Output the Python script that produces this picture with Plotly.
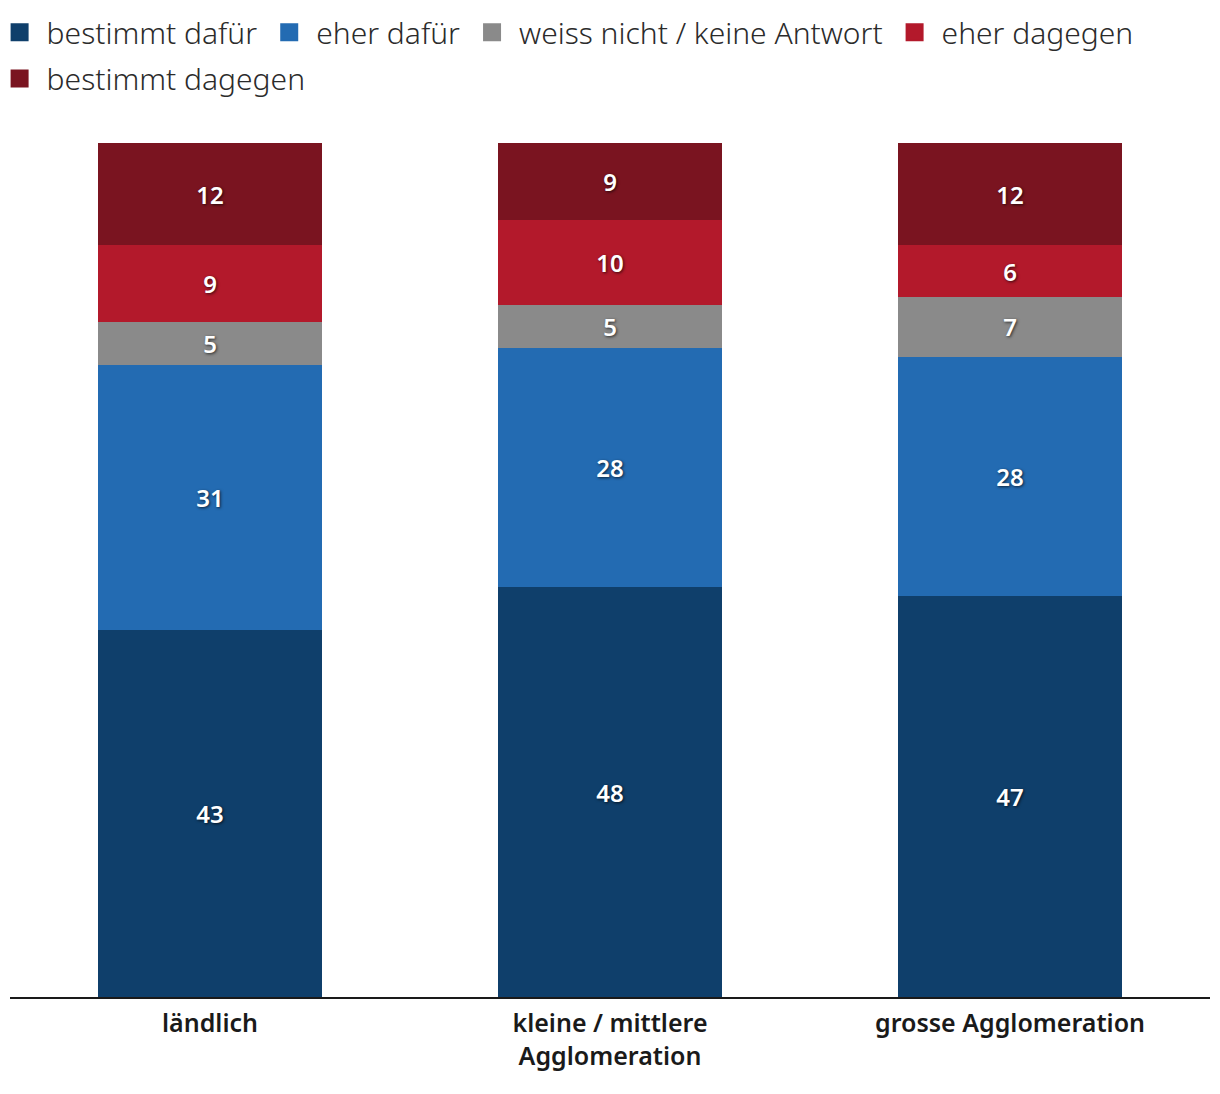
import plotly.graph_objects as go

categories = ["ländlich", "kleine / mittlere<br>Agglomeration", "grosse Agglomeration"]
series_names = ["bestimmt dafür", "eher dafür", "weiss nicht / keine Antwort", "eher dagegen", "bestimmt dagegen"]
bestimmt_dafuer = [43, 48, 47]
eher_dafuer = [31, 28, 28]
weiss_nicht = [5, 5, 7]
eher_dagegen = [9, 10, 6]
bestimmt_dagegen = [12, 9, 12]
colors = ["#0f3f6b", "#236bb2", "#8a8a8a", "#b3192b", "#7a1420"]

series_values = [bestimmt_dafuer, eher_dafuer, weiss_nicht, eher_dagegen, bestimmt_dagegen]
legend_rows = ["legend", "legend", "legend", "legend", "legend2"]

fig = go.Figure()
for name, vals, col in zip(series_names, series_values, colors):
    fig.add_trace(go.Bar(
        x=categories, y=vals, name=name, marker=dict(color=col, line=dict(width=0)),
        text=[str(v) for v in vals], textposition="inside", insidetextanchor="middle",
        textangle=0,
        textfont=dict(family="Noto Sans", size=24, color="white", weight=600,
                      shadow="1px 1px 3px rgba(0,0,0,0.7)"),
        showlegend=False, hoverinfo="skip",
    ))
# legend entries with larger square icons
for name, col, lg in zip(series_names, colors, legend_rows):
    fig.add_trace(go.Scatter(
        x=[None], y=[None], mode="markers", name=name, legend=lg,
        marker=dict(symbol="square", size=16, color=col, line=dict(color=col, width=2)),
        showlegend=True,
    ))

legend_font = dict(family="Noto Sans", size=30, color="#2b2b2b", weight=300)
fig.update_layout(
    width=1220, height=1094,
    barmode="stack", bargap=0.44,
    margin=dict(l=2, r=18, t=135, b=105, autoexpand=False),
    paper_bgcolor="white", plot_bgcolor="white",
    uniformtext=dict(minsize=10, mode="show"),
    legend=dict(orientation="h", x=-0.0145, xanchor="left",
                y=1.16, yanchor="top",
                font=legend_font, itemwidth=44, traceorder="normal"),
    legend2=dict(orientation="h", x=-0.0145, xanchor="left",
                 y=1.106, yanchor="top",
                 font=legend_font, itemwidth=44, traceorder="normal"),
    font=dict(family="Noto Sans"),
)
fig.update_xaxes(showline=True, linecolor="#1a1a1a", linewidth=2, ticks="",
                 tickfont=dict(family="Noto Sans", size=25, color="#1a1a1a", weight=600),
                 ticklabelstandoff=3,
                 showgrid=False, zeroline=False)
fig.update_yaxes(range=[0, 100], visible=False, showgrid=False, zeroline=False)

fig.write_html("out.html")
